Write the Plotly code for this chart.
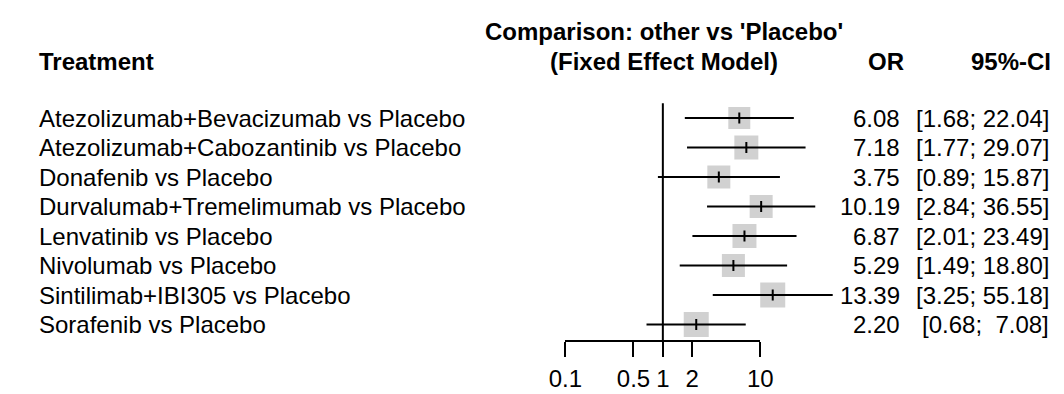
import plotly.graph_objects as go

# ---------------- data ----------------
treatments = [
    "Atezolizumab+Bevacizumab vs Placebo",
    "Atezolizumab+Cabozantinib vs Placebo",
    "Donafenib vs Placebo",
    "Durvalumab+Tremelimumab vs Placebo",
    "Lenvatinib vs Placebo",
    "Nivolumab vs Placebo",
    "Sintilimab+IBI305 vs Placebo",
    "Sorafenib vs Placebo",
]
odds_ratio = [6.08, 7.18, 3.75, 10.19, 6.87, 5.29, 13.39, 2.20]
ci_lower = [1.68, 1.77, 0.89, 2.84, 2.01, 1.49, 3.25, 0.68]
ci_upper = [22.04, 29.07, 15.87, 36.55, 23.49, 18.80, 55.18, 7.08]
tick_values = [0.1, 0.5, 1, 2, 10]
tick_labels = ["0.1", "0.5", "1", "2", "10"]

# ---------------- style / layout ----------------
W, H = 1064, 394
FONT = "Liberation Sans, Arial, Helvetica, sans-serif"
FS = 24
square_px = [22, 24, 23, 23, 24, 23, 25, 25]
SQ_COLOR = "#BEBEBE"

# pixel geometry
px_01, px_10 = 556.0, 756.7          # pixel x of 0.1 and 10
per_dec = (px_10 - px_01) / 2.0
dom_l, dom_r = 520.0, 880.0          # main x-axis domain in pixels
r0 = -1 - (px_01 - dom_l) / per_dec
r1 = 1 + (dom_r - px_10) / per_dec

row0_px, row_step = 110.0, 29.5
axis_px = 332.3
y_top = (0 - row0_px) / row_step
y_bot = (axis_px - row0_px) / row_step
y_dom0 = (H - axis_px) / H

n = len(treatments)
rows = list(range(n))

fig = go.Figure()

# invisible trace for the scale axis (drawn first so it sits underneath)
fig.add_trace(go.Scatter(x=[1], y=[0], mode="markers", marker=dict(opacity=0),
                         hoverinfo="skip", xaxis="x2", yaxis="y"))

# squares
fig.add_trace(go.Scatter(
    x=odds_ratio, y=rows, mode="markers",
    marker=dict(symbol="square", size=square_px, color=SQ_COLOR, line=dict(width=0)),
    hoverinfo="skip", xaxis="x", yaxis="y"))

# CI lines
cx, cy = [], []
for i in rows:
    cx += [ci_lower[i], ci_upper[i], None]
    cy += [i, i, None]
fig.add_trace(go.Scatter(x=cx, y=cy, mode="lines",
                         line=dict(color="black", width=2),
                         hoverinfo="skip", xaxis="x", yaxis="y"))

# point estimate ticks
fig.add_trace(go.Scatter(
    x=odds_ratio, y=rows, mode="markers",
    marker=dict(symbol="line-ns", size=8, line=dict(color="black", width=2)),
    hoverinfo="skip", xaxis="x", yaxis="y"))

# reference line at 1
fig.add_trace(go.Scatter(x=[1, 1], y=[-0.5, y_bot], mode="lines",
                         line=dict(color="black", width=2),
                         hoverinfo="skip", xaxis="x", yaxis="y"))

annotations = []
def txt(x, y, s, xanchor="left", yref="y", bold=False):
    annotations.append(dict(
        x=x / W, xref="paper", y=y, yref=yref, text=("<b>%s</b>" % s) if bold else s,
        showarrow=False, xanchor=xanchor, yanchor="middle",
        font=dict(family=FONT, size=FS, color="black")))

for i in rows:
    txt(12, i, treatments[i])
    txt(902, i, "%.2f" % odds_ratio[i], xanchor="right")
    ci = "[%.2f; %5.2f]" % (ci_lower[i], ci_upper[i])
    txt(1056, i, ci.replace(" ", "\u00a0"), xanchor="right")

# headers
txt(12, 1 - 53 / H, "Treatment", yref="paper", bold=True)
txt(658, 1 - 23 / H, "Comparison: other vs 'Placebo'", xanchor="center", yref="paper", bold=True)
txt(658, 1 - 54 / H, "(Fixed Effect Model)", xanchor="center", yref="paper", bold=True)
txt(907, 1 - 53 / H, "OR", xanchor="right", yref="paper", bold=True)
txt(1058, 1 - 53 / H, "95%-CI", xanchor="right", yref="paper", bold=True)

fig.update_layout(
    width=W, height=H,
    margin=dict(l=0, r=0, t=0, b=0),
    paper_bgcolor="white", plot_bgcolor="rgba(0,0,0,0)",
    showlegend=False,
    annotations=annotations,
    xaxis=dict(type="log", domain=[dom_l / W, dom_r / W], range=[r0, r1],
               visible=False, showgrid=False, zeroline=False),
    xaxis2=dict(type="log", domain=[px_01 / W, px_10 / W], range=[-1, 1],
                anchor="y", showline=True, linecolor="black", linewidth=2,
                ticks="outside", ticklen=15, tickwidth=2, tickcolor="black",
                tickvals=tick_values, ticktext=tick_labels, ticklabelstandoff=1,
                tickfont=dict(family=FONT, size=FS, color="black"),
                showgrid=False, zeroline=False),
    yaxis=dict(domain=[y_dom0, 1], range=[y_bot, y_top], visible=False,
               showgrid=False, zeroline=False),
)

fig.write_html("out.html")
